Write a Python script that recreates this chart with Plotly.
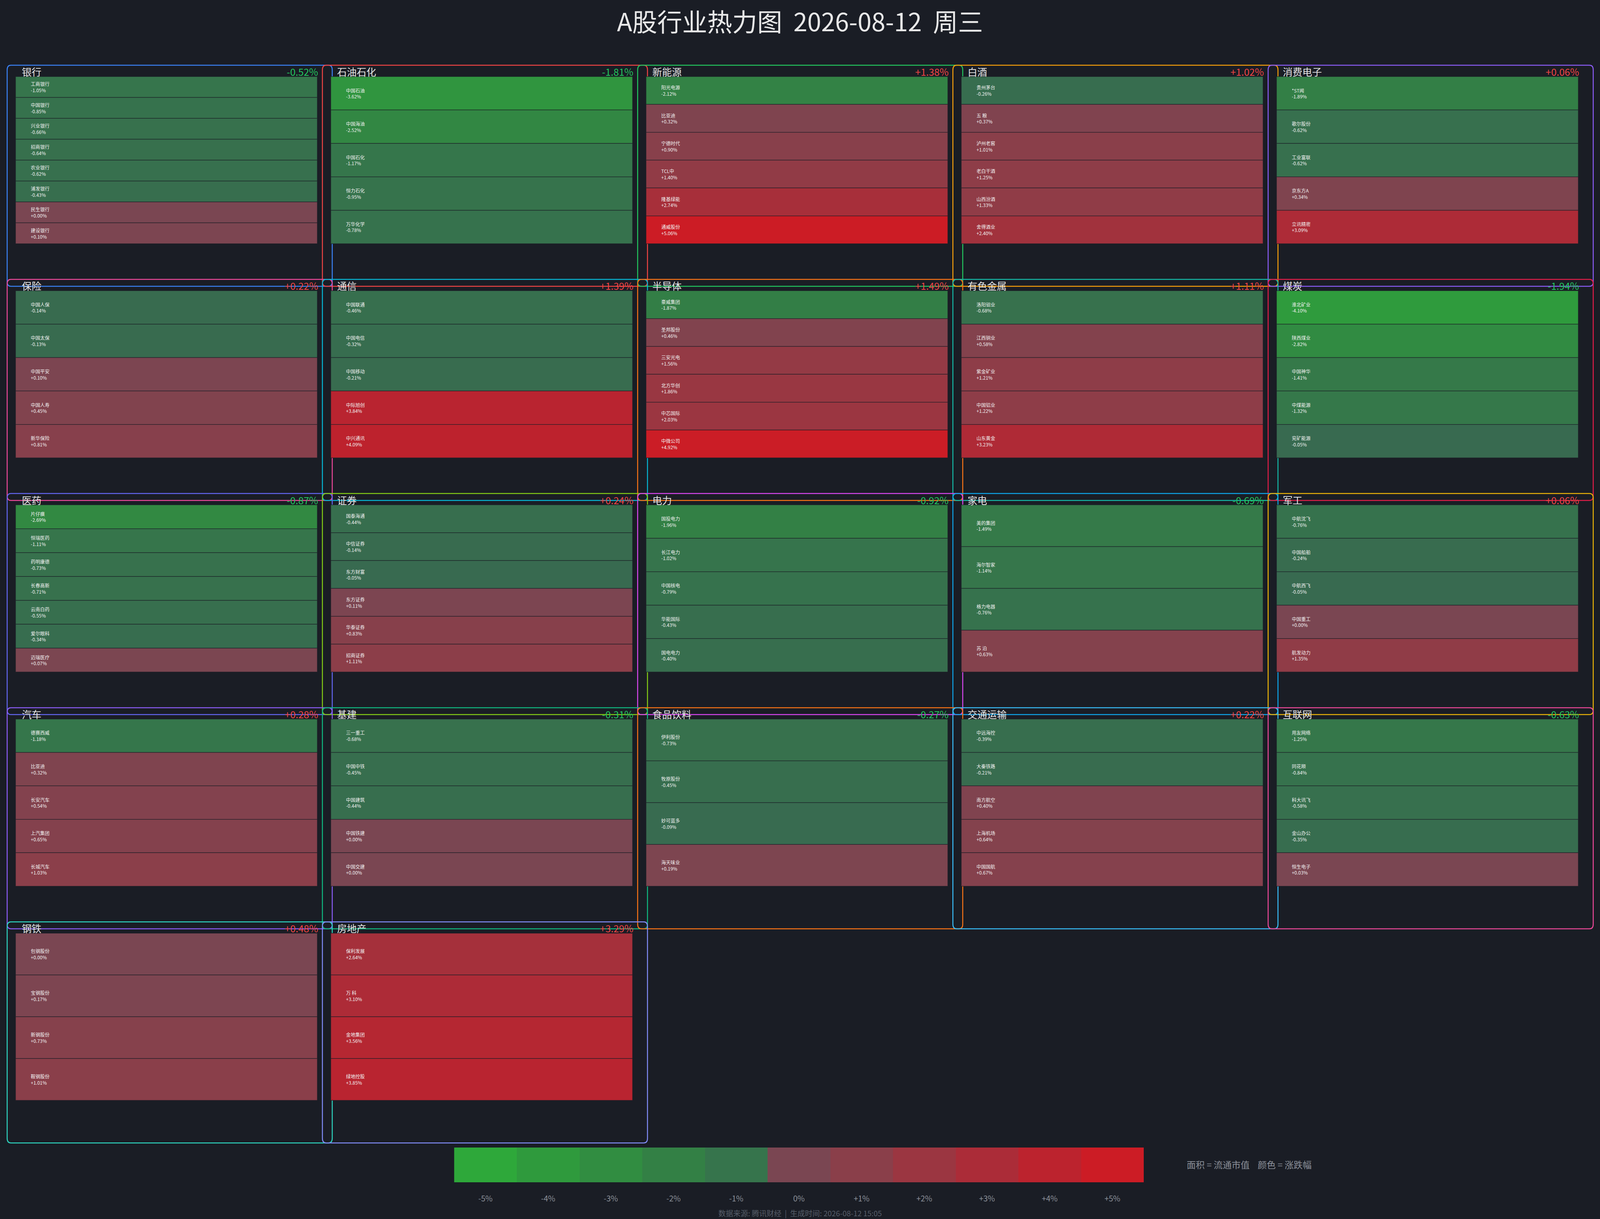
import plotly.graph_objects as go
from plotly.colors import sample_colorscale

# %% Daten
title_text = "A股行业热力图\u00a0 2026-08-12\u00a0 周三"

sectors = [
    "银行", "石油石化", "新能源", "白酒", "消费电子",
    "保险", "通信", "半导体", "有色金属", "煤炭",
    "医药", "证券", "电力", "家电", "军工",
    "汽车", "基建", "食品饮料", "交通运输", "互联网",
    "钢铁", "房地产",
]
sector_changes = [
    -0.52, -1.81, 1.38, 1.02, 0.06,
    0.22, 1.39, 1.49, 1.11, -1.94,
    -0.87, 0.24, -0.92, -0.69, 0.06,
    0.28, -0.31, -0.27, 0.22, -0.63,
    0.48, 3.29,
]
stock_names = [
    ["工商银行", "中国银行", "兴业银行", "招商银行", "农业银行", "浦发银行", "民生银行", "建设银行"],
    ["中国石油", "中国海油", "中国石化", "恒力石化", "万华化学"],
    ["阳光电源", "比亚迪", "宁德时代", "TCL中", "隆基绿能", "通威股份"],
    ["贵州茅台", "五 粮", "泸州老窖", "老白干酒", "山西汾酒", "舍得酒业"],
    ["*ST闻", "歌尔股份", "工业富联", "京东方A", "立讯精密"],
    ["中国人保", "中国太保", "中国平安", "中国人寿", "新华保险"],
    ["中国联通", "中国电信", "中国移动", "中际旭创", "中兴通讯"],
    ["豪威集团", "圣邦股份", "三安光电", "北方华创", "中芯国际", "中微公司"],
    ["洛阳钼业", "江西铜业", "紫金矿业", "中国铝业", "山东黄金"],
    ["淮北矿业", "陕西煤业", "中国神华", "中煤能源", "兖矿能源"],
    ["片仔癀", "恒瑞医药", "药明康德", "长春高新", "云南白药", "爱尔眼科", "迈瑞医疗"],
    ["国泰海通", "中信证券", "东方财富", "东方证券", "华泰证券", "招商证券"],
    ["国投电力", "长江电力", "中国核电", "华能国际", "国电电力"],
    ["美的集团", "海尔智家", "格力电器", "苏 泊"],
    ["中航沈飞", "中国船舶", "中航西飞", "中国重工", "航发动力"],
    ["德赛西威", "比亚迪", "长安汽车", "上汽集团", "长城汽车"],
    ["三一重工", "中国中铁", "中国建筑", "中国铁建", "中国交建"],
    ["伊利股份", "牧原股份", "妙可蓝多", "海天味业"],
    ["中远海控", "大秦铁路", "南方航空", "上海机场", "中国国航"],
    ["用友网络", "同花顺", "科大讯飞", "金山办公", "恒生电子"],
    ["包钢股份", "宝钢股份", "新钢股份", "鞍钢股份"],
    ["保利发展", "万 科", "金地集团", "绿地控股"],
]
stock_changes = [
    [-1.05, -0.85, -0.66, -0.64, -0.62, -0.43, 0.00, 0.10],
    [-3.62, -2.52, -1.17, -0.95, -0.78],
    [-2.12, 0.32, 0.90, 1.40, 2.74, 5.06],
    [-0.26, 0.37, 1.01, 1.25, 1.33, 2.40],
    [-1.89, -0.62, -0.62, 0.34, 3.09],
    [-0.14, -0.13, 0.10, 0.45, 0.81],
    [-0.46, -0.32, -0.21, 3.84, 4.09],
    [-1.87, 0.46, 1.56, 1.86, 2.03, 4.92],
    [-0.68, 0.58, 1.21, 1.22, 3.23],
    [-4.10, -2.82, -1.41, -1.32, -0.05],
    [-2.69, -1.11, -0.73, -0.71, -0.55, -0.34, 0.07],
    [-0.44, -0.14, -0.05, 0.11, 0.83, 1.11],
    [-1.96, -1.02, -0.79, -0.43, -0.40],
    [-1.49, -1.14, -0.76, 0.63],
    [-0.76, -0.24, -0.05, 0.00, 1.35],
    [-1.18, 0.32, 0.54, 0.65, 1.03],
    [-0.68, -0.45, -0.44, 0.00, 0.00],
    [-0.73, -0.45, -0.09, 0.19],
    [-0.39, -0.21, 0.40, 0.64, 0.67],
    [-1.25, -0.84, -0.58, -0.35, 0.03],
    [0.00, 0.17, 0.73, 1.01],
    [2.64, 3.10, 3.56, 3.85],
]
legend_ticks = [-5, -4, -3, -2, -1, 0, 1, 2, 3, 4, 5]

# %% Stil
bg = "#1a1d25"
frame_colors = [
    "#3b82f6", "#ef4444", "#22c55e", "#f59e0b", "#8b5cf6",
    "#ec4899", "#06b6d4", "#f97316", "#14b8a6", "#e11d48",
    "#6366f1", "#84cc16", "#d946ef", "#0ea5e9", "#eab308",
    "#8b5cf6", "#10b981", "#f97316", "#38bdf8", "#ec4899",
    "#2dd4bf", "#818cf8",
]
scale_points = [
    (-5, "#2ea83a"), (-4, "#2f9a3d"), (-3, "#318d41"), (-2, "#338045"),
    (-1, "#36744c"), (-0.001, "#386a50"), (0, "#7a4652"), (1, "#8a3f4a"),
    (2, "#9b3641"), (3, "#ab2c38"), (4, "#bc232e"), (5, "#cc1c25"),
]
colorscale = [[(v + 5) / 10, c] for v, c in scale_points]

# Referenzraster in Pixeln, Umrechnung auf Papier-Koordinaten
W, H = 5148, 3121
font_cn = "Noto Sans CJK SC, Noto Sans, sans-serif"


def px(x):
    return x / W


def py(y):
    return 1 - y / H


def scale_pos(v):
    # Position auf der Farbskala (-5%..+5%), begrenzt
    return min(max((v + 5) / 10, 0.0), 0.9999)


def rounded_rect(x0, y0, x1, y1, r=12):
    rx, ry = r / W, r / H
    a, b, c, d = px(x0), py(y0), px(x1), py(y1)
    return (f"M{a + rx},{b} L{c - rx},{b} Q{c},{b} {c},{b - ry} "
            f"L{c},{d + ry} Q{c},{d} {c - rx},{d} L{a + rx},{d} "
            f"Q{a},{d} {a},{d + ry} L{a},{b - ry} Q{a},{b} {a + rx},{b} Z")


col_pitch, row_pitch = 1014.3, 548.3
box_w, box_h = 1046, 566
pad_txt = "\u2003\u2003\u2003"

fig = go.Figure()
shapes = []
annotations = []

for i, sector in enumerate(sectors):
    r, c = divmod(i, 5)
    bx = 23 + c * col_pitch
    by = 167 + r * row_pitch

    # Rahmen des Sektors
    shapes.append(dict(
        type="path", path=rounded_rect(bx, by, bx + box_w, by + box_h),
        xref="paper", yref="paper", layer="below",
        line=dict(color=frame_colors[i], width=2.5), fillcolor="rgba(0,0,0,0)",
    ))

    changes = stock_changes[i]
    n = len(changes)
    # Farben über die Plotly-Farbskala, Wurzel unsichtbar
    tile_colors = sample_colorscale(colorscale, [scale_pos(v) for v in changes])
    fig.add_trace(go.Treemap(
        labels=[sector] + stock_names[i],
        parents=[""] + [sector] * n,
        customdata=[""] + [f"{v:+.2f}%" for v in changes],
        texttemplate=[""] + [pad_txt + "%{label}<br>" + pad_txt + "%{customdata}"] * n,
        textposition="middle left",
        textfont=dict(size=12, color="#f2f2f2", family=font_cn),
        marker=dict(
            colors=["rgba(0,0,0,0)"] + tile_colors,
            cornerradius=8,
            pad=dict(t=0, l=0, r=0, b=0),
            line=dict(width=[0] + [1.5] * n, color="rgba(26,29,37,0.7)"),
        ),
        tiling=dict(packing="slice", pad=0),
        pathbar=dict(visible=False),
        sort=False,
        hovertemplate="%{label} %{customdata}<extra></extra>",
        domain=dict(x=[px(bx + 27), px(bx + 998)], y=[py(by + 457), py(by + 29)]),
    ))

    annotations.append(dict(
        text=sector, x=px(bx + 45), y=py(by + 16), xref="paper", yref="paper",
        xanchor="left", yanchor="middle", showarrow=False,
        font=dict(size=25, color="#e4e4e4", family=font_cn),
    ))
    pct = sector_changes[i]
    annotations.append(dict(
        text=f"{pct:+.2f}%", x=px(bx + 1003), y=py(by + 16), xref="paper", yref="paper",
        xanchor="right", yanchor="middle", showarrow=False,
        font=dict(size=25, color="#ef4444" if pct > 0 else "#22c55e", family=font_cn),
    ))

# Farblegende
fig.add_trace(go.Heatmap(
    z=[legend_ticks],
    x=[f"{t:+d}%" if t != 0 else "0%" for t in legend_ticks],
    colorscale=colorscale, zmin=-5, zmax=5, showscale=False,
    hoverinfo="skip", xaxis="x", yaxis="y",
))

annotations.append(dict(
    text="面积 = 流通市值\u00a0\u00a0\u00a0 颜色 = 涨跌幅", x=px(3816), y=py(2981),
    xref="paper", yref="paper", xanchor="left", yanchor="middle", showarrow=False,
    font=dict(size=23, color="#8b9099", family=font_cn),
))
annotations.append(dict(
    text="数据来源: 腾讯财经\u00a0 |\u00a0 生成时间: 2026-08-12 15:05", x=0.5, y=py(3106),
    xref="paper", yref="paper", xanchor="center", yanchor="middle", showarrow=False,
    font=dict(size=19, color="#575d69", family=font_cn),
))

fig.update_layout(
    title=dict(text=title_text, x=0.5, xanchor="center", y=py(58), yanchor="middle",
               font=dict(size=64, color="#e8e8e8", family=font_cn)),
    paper_bgcolor=bg, plot_bgcolor=bg,
    margin=dict(l=0, r=0, t=0, b=0),
    shapes=shapes,
    annotations=annotations,
    showlegend=False,
    xaxis=dict(domain=[px(1461), px(3680)], showgrid=False, zeroline=False,
               ticks="", ticklabelstandoff=28, fixedrange=True,
               tickfont=dict(size=20, color="#8b9099", family=font_cn)),
    yaxis=dict(domain=[py(3027), py(2938)], visible=False, fixedrange=True),
)

# Seite randlos und dunkel, Diagramm füllt das Fenster
post = "document.body.style.margin='0';document.body.style.background='#1a1d25';"
fig.write_html("out.html", default_width="100vw", default_height="100vh",
               post_script=post, config={"displayModeBar": False})
